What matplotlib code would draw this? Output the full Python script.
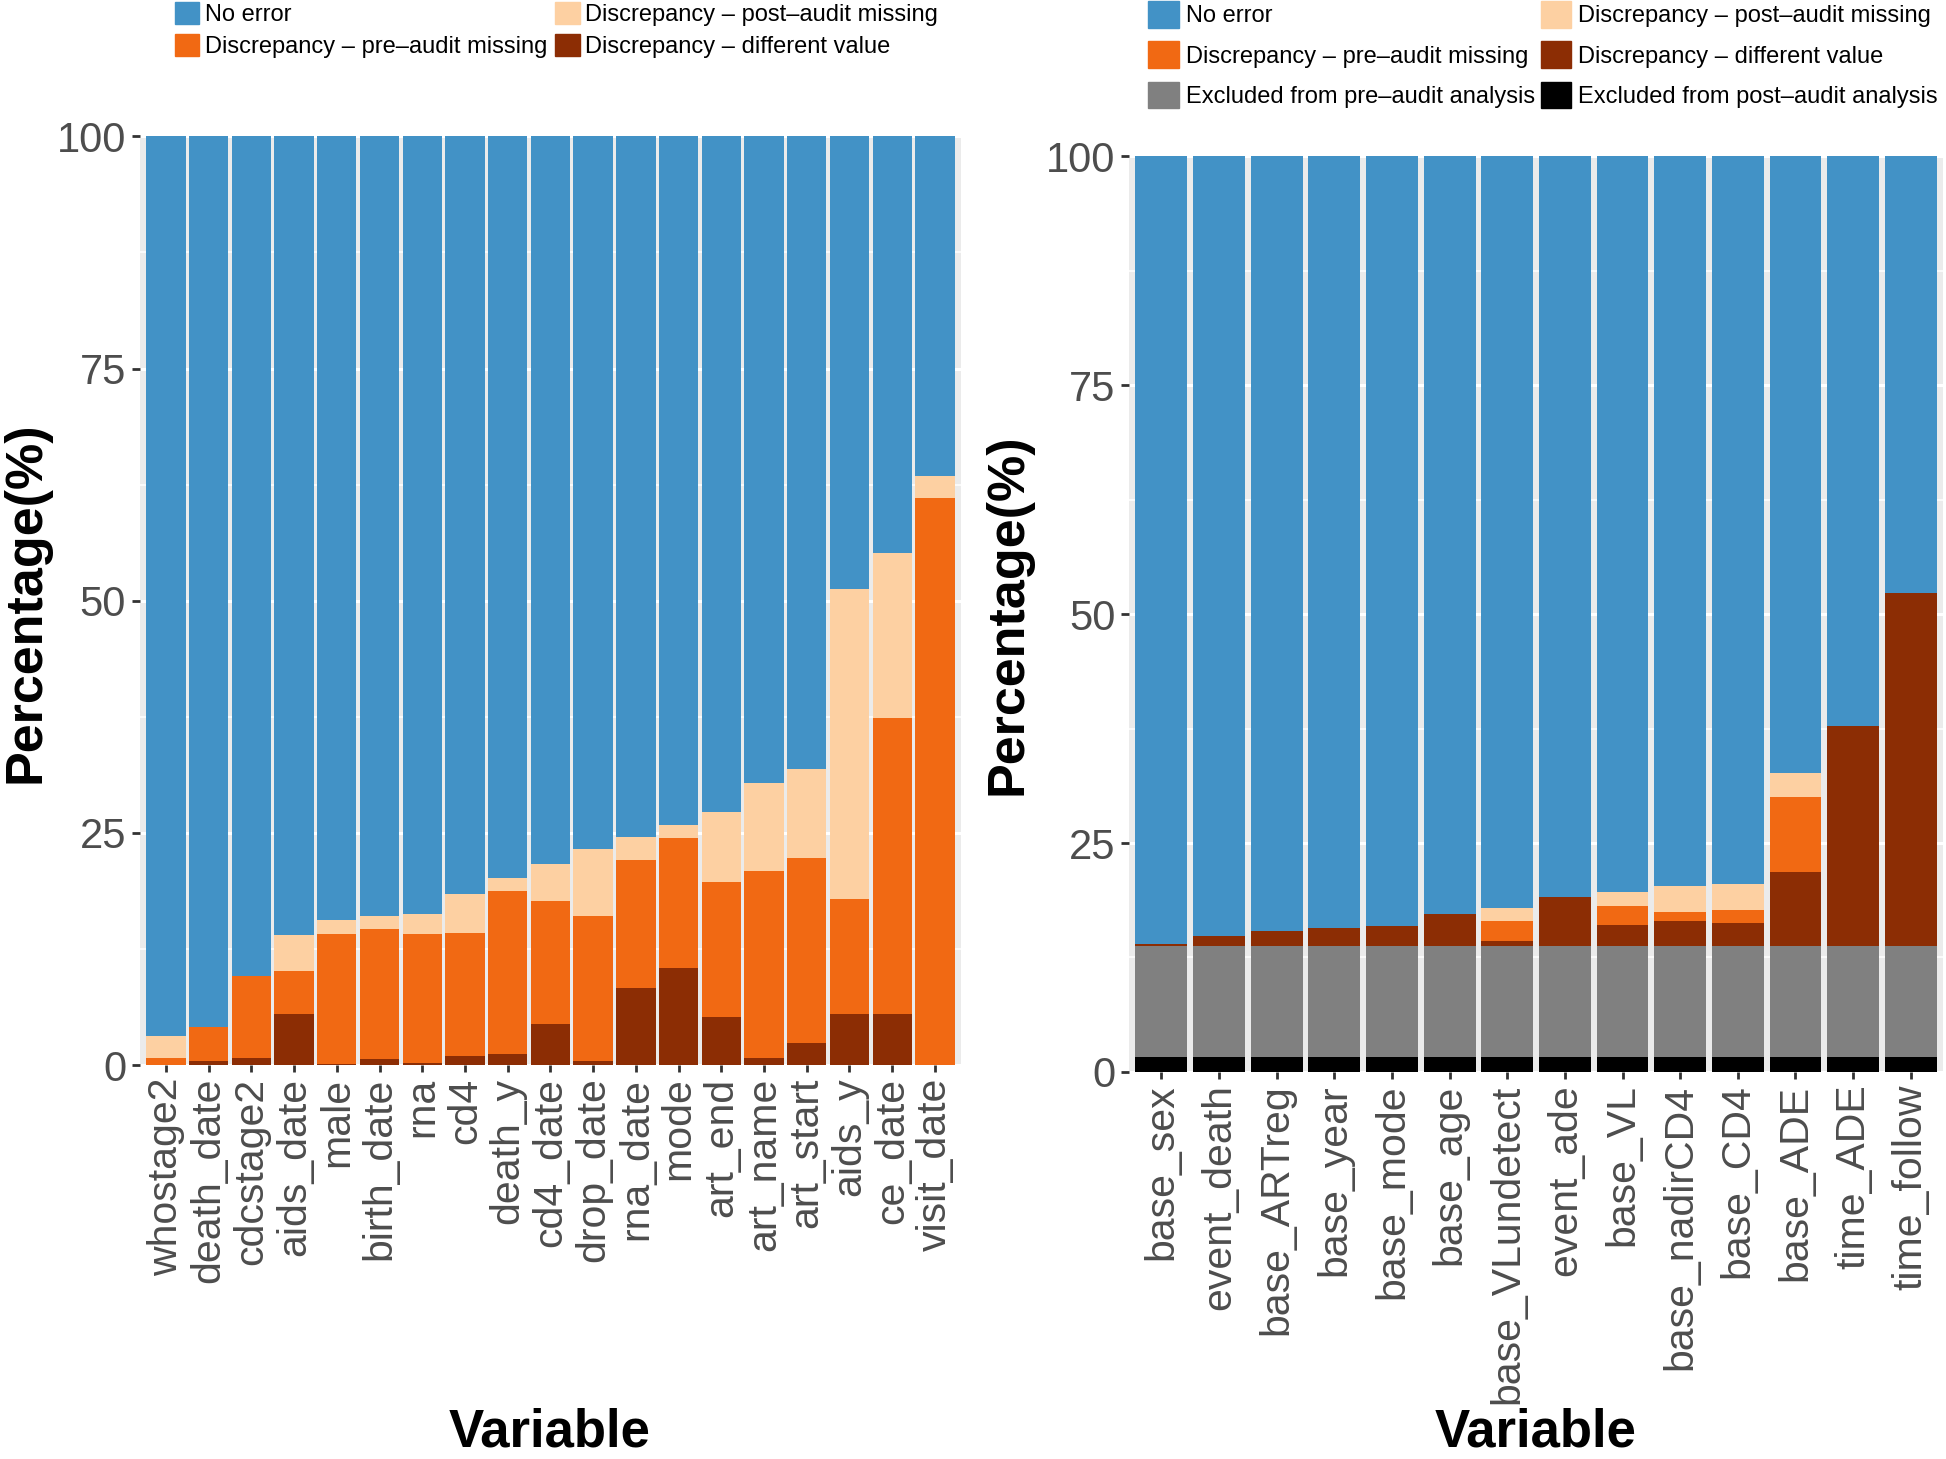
import matplotlib
matplotlib.use("Agg")
import matplotlib.pyplot as plt
import numpy as np
from matplotlib.patches import Patch

# ── data (percent of records per variable) ───────────────────────────────────
left_vars = ["whostage2", "death_date", "cdcstage2", "aids_date", "male", "birth_date",
             "rna", "cd4", "death_y", "cd4_date", "drop_date", "rna_date", "mode",
             "art_end", "art_name", "art_start", "aids_y", "ce_date", "visit_date"]
left_diff = [0.0, 0.4, 0.8, 5.5, 0.1, 0.6, 0.2, 1.0, 1.2, 4.4, 0.4, 8.3, 10.4,
             5.2, 0.8, 2.4, 5.5, 5.5, 0.0]
left_pre = [0.8, 3.7, 8.8, 4.6, 14.0, 14.0, 13.9, 13.2, 17.5, 13.3, 15.6, 13.8, 14.0,
            14.5, 20.1, 19.9, 12.4, 31.9, 61.1]
left_post = [2.3, 0.0, 0.0, 3.9, 1.5, 1.4, 2.2, 4.2, 1.4, 3.9, 7.3, 2.5, 1.4,
             7.6, 9.5, 9.6, 33.4, 17.7, 2.3]

right_vars = ["base_sex", "event_death", "base_ARTreg", "base_year", "base_mode",
              "base_age", "base_VLundetect", "event_ade", "base_VL", "base_nadirCD4",
              "base_CD4", "base_ADE", "time_ADE", "time_follow"]
right_excl_post = [1.6] * 14
right_excl_pre = [12.2] * 14
right_diff = [0.15, 1.1, 1.6, 1.9, 2.1, 3.4, 0.5, 5.3, 2.2, 2.7, 2.5, 8.0, 24.0, 38.5]
right_pre = [0, 0, 0, 0, 0, 0, 2.2, 0, 2.1, 1.0, 1.4, 8.2, 0, 0]
right_post = [0, 0, 0, 0, 0, 0, 1.4, 0, 1.6, 2.8, 2.8, 2.7, 0, 0]

C_OK = "#4292C6"
C_PRE = "#F16913"
C_POST = "#FDD0A2"
C_DIFF = "#8C2D04"
C_EXPRE = "#808080"
C_EXPOST = "#000000"

FONT = ["Liberation Sans", "DejaVu Sans"]

fig = plt.figure(figsize=(19.46, 14.59), dpi=100)
ax1 = fig.add_axes([0.0719, 0.2700, 0.4219, 0.6365])
ax2 = fig.add_axes([0.5802, 0.2653, 0.4183, 0.6275])


def stack(ax, names, layers, width):
    x = np.arange(1, len(names) + 1)
    bottom = np.zeros(len(names))
    for vals, col in layers:
        vals = np.asarray(vals, dtype=float)
        ax.bar(x, vals, width=width, bottom=bottom, color=col, linewidth=0, zorder=3)
        bottom += vals
    ax.bar(x, 100 - bottom, width=width, bottom=bottom, color=C_OK, linewidth=0, zorder=3)
    return x


def style(ax, x, names, pad):
    ax.set_facecolor("#EBEBEB")
    for s in ax.spines.values():
        s.set_visible(False)
    ax.set_ylim(0, 100)
    ax.set_xlim(x[0] - pad, x[-1] + pad)
    ax.set_yticks([0, 25, 50, 75, 100])
    ax.set_yticks([12.5, 37.5, 62.5, 87.5], minor=True)
    ax.set_xticks(x)
    ax.set_xticklabels(names, rotation=90, family=FONT, fontsize=29.5, color="#4D4D4D")
    for lab in ax.get_yticklabels():
        lab.set_family(FONT)
        lab.set_fontsize(30)
        lab.set_color("#4D4D4D")
    ax.grid(True, which="major", color="white", lw=2.2, zorder=0)
    ax.grid(True, which="minor", axis="y", color="white", lw=1.1, zorder=0)
    ax.tick_params(axis="y", which="major", length=6, width=2, color="#333333", pad=4)
    ax.tick_params(axis="x", which="major", length=5, width=2, color="#333333", pad=4)
    ax.tick_params(which="minor", length=0)
    ax.set_axisbelow(True)


# ── left panel ───────────────────────────────────────────────────────────────
x1 = stack(ax1, left_vars, [(left_diff, C_DIFF), (left_pre, C_PRE), (left_post, C_POST)], 0.92)
style(ax1, x1, left_vars, 0.61)

# ── right panel ──────────────────────────────────────────────────────────────
x2 = stack(ax2, right_vars, [(right_excl_post, C_EXPOST), (right_excl_pre, C_EXPRE),
                             (right_diff, C_DIFF), (right_pre, C_PRE),
                             (right_post, C_POST)], 0.9)
style(ax2, x2, right_vars, 0.56)

# ── axis titles ──────────────────────────────────────────────────────────────
for xx, yy in [(0.0135, 0.587), (0.518, 0.579)]:
    fig.text(xx, yy, "Percentage(%)", rotation=90, ha="center", va="center",
             family=FONT, fontweight="bold", fontsize=37.5)
for xx in [0.2826, 0.789]:
    fig.text(xx, 0.018, "Variable", ha="center", va="center",
             family=FONT, fontweight="bold", fontsize=38)

# ── legends ──────────────────────────────────────────────────────────────────
lbl_ok = "No error"
lbl_pre = "Discrepancy \u2013 pre\u2013audit missing"
lbl_post = "Discrepancy \u2013 post\u2013audit missing"
lbl_diff = "Discrepancy \u2013 different value"
lbl_expre = "Excluded from pre\u2013audit analysis"
lbl_expost = "Excluded from post\u2013audit analysis"

h_left = [Patch(color=C_OK), Patch(color=C_PRE), Patch(color=C_POST), Patch(color=C_DIFF)]
fig.legend(h_left, [lbl_ok, lbl_pre, lbl_post, lbl_diff], ncol=2,
           loc="upper left", bbox_to_anchor=(0.0885, 1.0), frameon=False,
           prop={"family": FONT, "size": 17}, handlelength=1.05, handleheight=1.05,
           handletextpad=0.25, columnspacing=0.3, labelspacing=0.33, borderaxespad=0,
           borderpad=0.1)

h_right = [Patch(color=C_OK), Patch(color=C_PRE), Patch(color=C_EXPRE),
           Patch(color=C_POST), Patch(color=C_DIFF), Patch(color=C_EXPOST)]
fig.legend(h_right, [lbl_ok, lbl_pre, lbl_expre, lbl_post, lbl_diff, lbl_expost],
           ncol=2, loc="upper left", bbox_to_anchor=(0.5895, 1.0), frameon=False,
           prop={"family": FONT, "size": 17}, handlelength=1.3, handleheight=1.35,
           handletextpad=0.28, columnspacing=0.25, labelspacing=0.58, borderaxespad=0,
           borderpad=0.05)

fig.savefig("out.png", dpi=100)
